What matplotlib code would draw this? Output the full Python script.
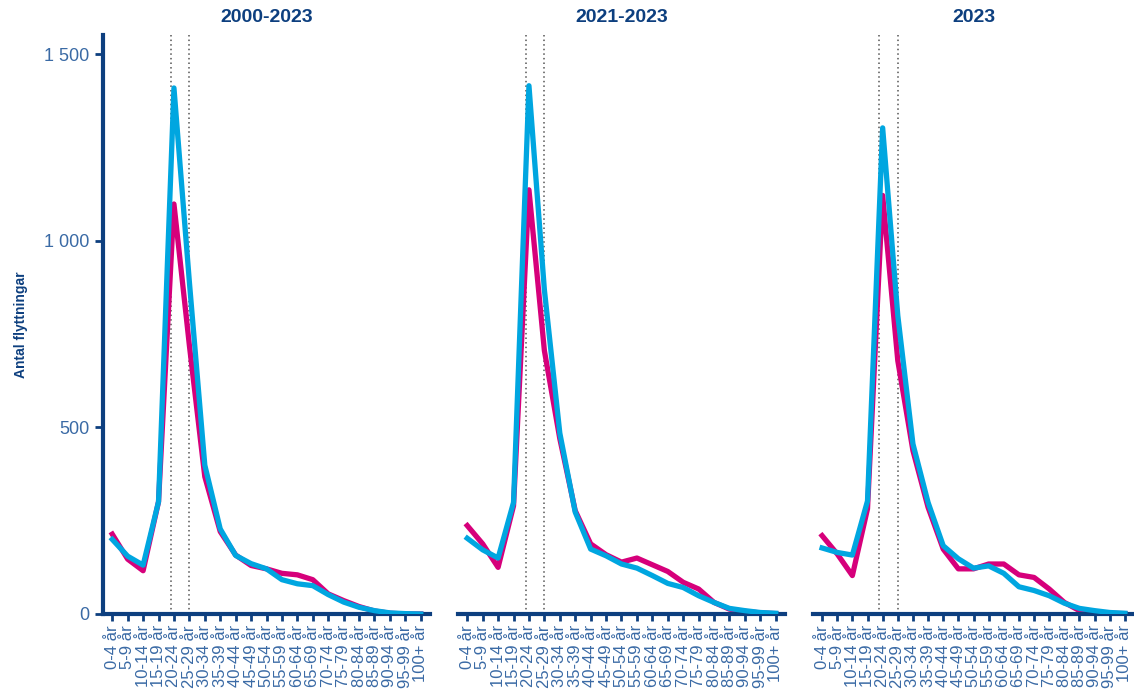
import matplotlib
matplotlib.use("Agg")
import matplotlib.pyplot as plt
from matplotlib.ticker import FuncFormatter

plt.rcParams['font.family'] = ['Liberation Sans', 'DejaVu Sans']

# åldersgrupper
ages = ['0-4 år', '5-9 år', '10-14 år', '15-19 år', '20-24 år', '25-29 år',
        '30-34 år', '35-39 år', '40-44 år', '45-49 år', '50-54 år', '55-59 år',
        '60-64 år', '65-69 år', '70-74 år', '75-79 år', '80-84 år', '85-89 år',
        '90-94 år', '95-99 år', '100+ år']

titles = ['2000-2023', '2021-2023', '2023']

# rosa serie
pink_0023 = [214, 147, 116, 301, 1099, 720, 368, 221, 158, 130, 121, 109,
             105, 92, 54, 36, 20, 8, 2, 0, 0]
pink_2123 = [237, 188, 125, 290, 1137, 706, 470, 277, 188, 159, 139, 150,
             132, 114, 85, 67, 31, 13, 7, 3, 1]
pink_23 = [210, 161, 103, 282, 1122, 679, 438, 286, 174, 121, 121, 134,
           134, 105, 98, 67, 31, 9, 4, 2, 1]

# blå serie
blue_0023 = [200, 155, 131, 301, 1410, 890, 399, 228, 157, 135, 121, 92,
             81, 76, 52, 32, 18, 9, 3, 1, 0]
blue_2123 = [203, 172, 150, 299, 1416, 869, 485, 273, 174, 156, 134, 123,
             103, 82, 71, 49, 31, 15, 9, 4, 2]
blue_23 = [177, 165, 158, 303, 1303, 800, 456, 299, 183, 148, 123, 129,
           109, 73, 63, 49, 29, 15, 9, 4, 2]

pinks = [pink_0023, pink_2123, pink_23]
blues = [blue_0023, blue_2123, blue_23]

# streckade linjer (20 och 25 år)
vlines = [3.78, 5.0]

NAVY = '#0d3f7f'
TXT = '#3a6aa5'
PINK = '#d6007b'
BLUE = '#00a6e0'

W, H = 1134, 690
fig = plt.figure(figsize=(W / 100, H / 100), dpi=100)

lefts = [103, 458, 813]
widths = [327, 327, 321]
x = list(range(len(ages)))
for i in range(3):
    ax = fig.add_axes([lefts[i] / W, 1 - 614 / H, widths[i] / W, (614 - 35) / H])
    for v in vlines:
        ax.axvline(v, color='#555555', linestyle=(0, (1, 2)), linewidth=1.1, zorder=1)
    ax.plot(x, pinks[i], color=PINK, linewidth=3.8, solid_joinstyle='round', zorder=2)
    ax.plot(x, blues[i], color=BLUE, linewidth=3.8, solid_joinstyle='round', zorder=3)
    ax.set_xlim(-0.6, 20.6)
    ax.set_ylim(0, 1552)
    ax.set_xticks(x)
    ax.set_xticklabels(ages, rotation=90, fontsize=12, color=TXT)
    ax.set_yticks([0, 500, 1000, 1500])
    ax.yaxis.set_major_formatter(FuncFormatter(lambda v, p: f"{v:,.0f}".replace(",", " ")))
    ax.tick_params(axis='x', length=5, width=2, color=NAVY, pad=3)
    ax.tick_params(axis='y', length=6, width=2, color=NAVY, labelsize=13, labelcolor=TXT, pad=4)
    for s in ['top', 'right']:
        ax.spines[s].set_visible(False)
    ax.spines['bottom'].set_color(NAVY)
    ax.spines['bottom'].set_linewidth(3)
    if i == 0:
        ax.spines['left'].set_color(NAVY)
        ax.spines['left'].set_linewidth(3)
        ax.set_ylabel('Antal flyttningar', fontsize=10, fontweight='bold', color=NAVY, labelpad=11)
    else:
        ax.spines['left'].set_visible(False)
        ax.tick_params(axis='y', left=False, labelleft=False)
    ax.set_title(titles[i], fontsize=14, fontweight='bold', color=NAVY, pad=9)

fig.savefig('out.png', dpi=100, facecolor='white')
